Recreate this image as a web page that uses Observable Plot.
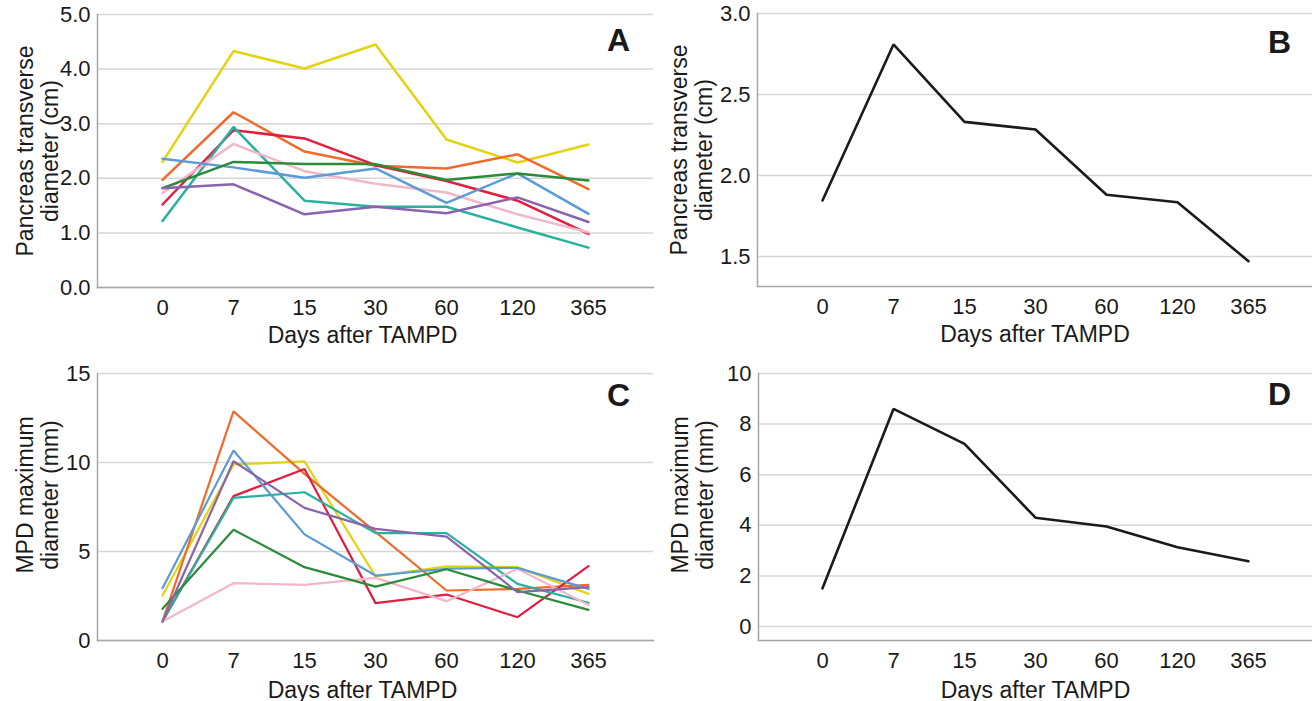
<!DOCTYPE html>
<html><head><meta charset="utf-8">
<script src="https://cdn.jsdelivr.net/npm/d3@7"></script>
<script src="https://cdn.jsdelivr.net/npm/@observablehq/plot@0.6"></script>
<style>
body{margin:0;background:#fff;width:1312px;height:701px;overflow:hidden;position:relative;font-family:"Liberation Sans",Arial,sans-serif;}
.panel{position:absolute;}
</style></head><body>
<div id="pA" class="panel" style="left:0;top:0"></div>
<div id="pB" class="panel" style="left:656px;top:0"></div>
<div id="pC" class="panel" style="left:0;top:350px"></div>
<div id="pD" class="panel" style="left:656px;top:350px"></div>
<script>
// ---- data ----
const days = ["0", "7", "15", "30", "60", "120", "365"];
const seriesNames = ["Patient 1", "Patient 2", "Patient 3", "Patient 4", "Patient 5", "Patient 6", "Patient 7", "Patient 8"];

// Panel A: pancreas transverse diameter (cm), individual patients
const aP1 = [2.30, 4.33, 4.01, 4.45, 2.71, 2.29, 2.62];
const aP2 = [1.97, 3.21, 2.49, 2.23, 2.18, 2.44, 1.80];
const aP3 = [1.52, 2.88, 2.73, 2.24, 1.95, 1.59, 0.98];
const aP4 = [1.22, 2.94, 1.59, 1.48, 1.48, 1.10, 0.73];
const aP5 = [1.73, 2.63, 2.13, 1.90, 1.74, 1.34, 1.01];
const aP6 = [2.36, 2.20, 2.01, 2.18, 1.55, 2.09, 1.35];
const aP7 = [1.82, 2.30, 2.26, 2.26, 1.97, 2.09, 1.96];
const aP8 = [1.82, 1.89, 1.34, 1.48, 1.36, 1.65, 1.20];

// Panel B: mean pancreas transverse diameter (cm)
const bMean = [1.846, 2.809, 2.331, 2.284, 1.881, 1.835, 1.471];

// Panel C: MPD maximum diameter (mm), individual patients
const cP1 = [2.53, 9.89, 10.06, 3.60, 4.16, 4.12, 2.62];
const cP2 = [1.07, 12.87, 9.36, 6.10, 2.81, 2.90, 3.13];
const cP3 = [1.07, 8.11, 9.64, 2.10, 2.58, 1.31, 4.18];
const cP4 = [1.07, 8.01, 8.33, 6.03, 6.03, 3.18, 2.12];
const cP5 = [1.07, 3.22, 3.13, 3.52, 2.21, 4.03, 2.00];
const cP6 = [2.94, 10.67, 5.96, 3.65, 4.03, 4.08, 2.90];
const cP7 = [1.78, 6.22, 4.12, 3.03, 4.00, 2.81, 1.72];
const cP8 = [1.07, 10.07, 7.45, 6.27, 5.84, 2.72, 3.00];

// Panel D: mean MPD maximum diameter (mm)
const dMean = [1.51, 8.60, 7.22, 4.30, 3.95, 3.13, 2.58];

const ticksA = [0, 1, 2, 3, 4, 5];
const ticksB = [1.5, 2.0, 2.5, 3.0];
const ticksC = [0, 5, 10, 15];
const ticksD = [0, 2, 4, 6, 8, 10];

const xTitle = "Days after TAMPD";
const yTitleAB = "Pancreas transverse\ndiameter (cm)";
const yTitleCD = "MPD maximum\ndiameter (mm)";

// ---- styles ----
const seriesColors = ["#e4d30f", "#ef6b2c", "#e21d3f", "#29b19e", "#f2b7ca", "#5b9bd6", "#2a8b38", "#8a63ad"];
const FONT = '"Liberation Sans", Arial, sans-serif';
const GRID = "#d6d6d6";
const AXIS = "#a6a6a6";
const INK = "#1a1a1a";

function tidy(arrays) {
  return seriesNames.flatMap((n, i) => arrays[i].map((v, j) => ({series: n, day: days[j], value: v})));
}
function single(arr) {
  return arr.map((v, j) => ({series: "mean", day: days[j], value: v}));
}

function makePanel(opt) {
  const lineMarks = opt.multi
    ? Plot.line(opt.data, {x: "day", y: "value", z: "series", stroke: "series", strokeWidth: opt.sw, strokeLinejoin: "miter"})
    : Plot.line(opt.data, {x: "day", y: "value", stroke: INK, strokeWidth: 2.6, strokeLinejoin: "miter"});
  return Plot.plot({
    width: opt.width, height: opt.height,
    marginLeft: opt.ml, marginRight: opt.mr, marginTop: opt.mt, marginBottom: opt.mb,
    style: {fontFamily: FONT, fontSize: "22px", color: INK, background: "white", overflow: "visible"},
    x: {type: "point", domain: days, padding: 0.9, axis: null},
    y: {domain: opt.yDomain, axis: null},
    color: {type: "ordinal", domain: seriesNames, range: seriesColors},
    marks: [
      Plot.gridY(opt.ticks, {stroke: GRID, strokeOpacity: 1, strokeWidth: 1.5}),
      Plot.frame({anchor: "left", stroke: AXIS, strokeWidth: 1.5}),
      Plot.frame({anchor: "bottom", stroke: AXIS, strokeWidth: 1.5}),
      Plot.axisX({tickSize: 0, tickPadding: 12, fontSize: 22, fill: INK, label: null}),
      Plot.axisY(opt.ticks, {tickSize: 0, tickPadding: 7, tickFormat: opt.fmt, fontSize: 22, fill: INK, label: null}),
      lineMarks,
      Plot.text([opt.letter], {text: d => d, frameAnchor: "top-right", dx: opt.ldx, dy: opt.ldy,
        textAnchor: "middle", lineAnchor: "middle", fontSize: 32, fontWeight: "bold", fill: INK}),
      Plot.text([opt.ytitle], {text: d => d, frameAnchor: "left", rotate: -90, dx: opt.ytdx, dy: opt.ytdy,
        textAnchor: "middle", lineAnchor: "middle", lineHeight: 1.08, fontSize: 23, fill: INK}),
      Plot.text([xTitle], {text: d => d, frameAnchor: "bottom", dx: opt.xtdx, dy: opt.xtdy,
        textAnchor: "middle", lineAnchor: "middle", fontSize: 23, fill: INK})
    ]
  });
}

const f1 = d3.format(".1f");
const f0 = d3.format("d");

document.getElementById("pA").append(makePanel({
  multi: true, sw: 2.5,
  data: tidy([aP1, aP2, aP3, aP4, aP5, aP6, aP7, aP8]),
  width: 656, height: 350, ml: 97, mr: 3, mt: 14, mb: 63,
  yDomain: [0, 5], ticks: ticksA, fmt: f1, letter: "A", ldx: -35, ldy: 26,
  ytitle: yTitleAB, ytdx: -60, ytdy: 0, xtdx: -13, xtdy: 48
}));
document.getElementById("pB").append(makePanel({
  multi: false,
  data: single(bMean),
  width: 656, height: 350, ml: 101, mr: 0, mt: 13, mb: 64,
  yDomain: [1.315, 3.0], ticks: ticksB, fmt: f1, letter: "B", ldx: -33, ldy: 29,
  ytitle: yTitleAB, ytdx: -66, ytdy: 0, xtdx: 0, xtdy: 48
}));
document.getElementById("pC").append(makePanel({
  multi: true, sw: 2.2,
  data: tidy([cP1, cP2, cP3, cP4, cP5, cP6, cP7, cP8]),
  width: 656, height: 351, ml: 97, mr: 3, mt: 23, mb: 61,
  yDomain: [0, 15], ticks: ticksC, fmt: f0, letter: "C", ldx: -35, ldy: 22,
  ytitle: yTitleCD, ytdx: -60, ytdy: -12, xtdx: -13, xtdy: 50
}));
document.getElementById("pD").append(makePanel({
  multi: false,
  data: single(dMean),
  width: 656, height: 351, ml: 102, mr: 0, mt: 23, mb: 61,
  yDomain: [-0.554, 10], ticks: ticksD, fmt: f0, letter: "D", ldx: -33, ldy: 21,
  ytitle: yTitleCD, ytdx: -66, ytdy: -12, xtdx: 0, xtdy: 50
}));
</script>
</body></html>
